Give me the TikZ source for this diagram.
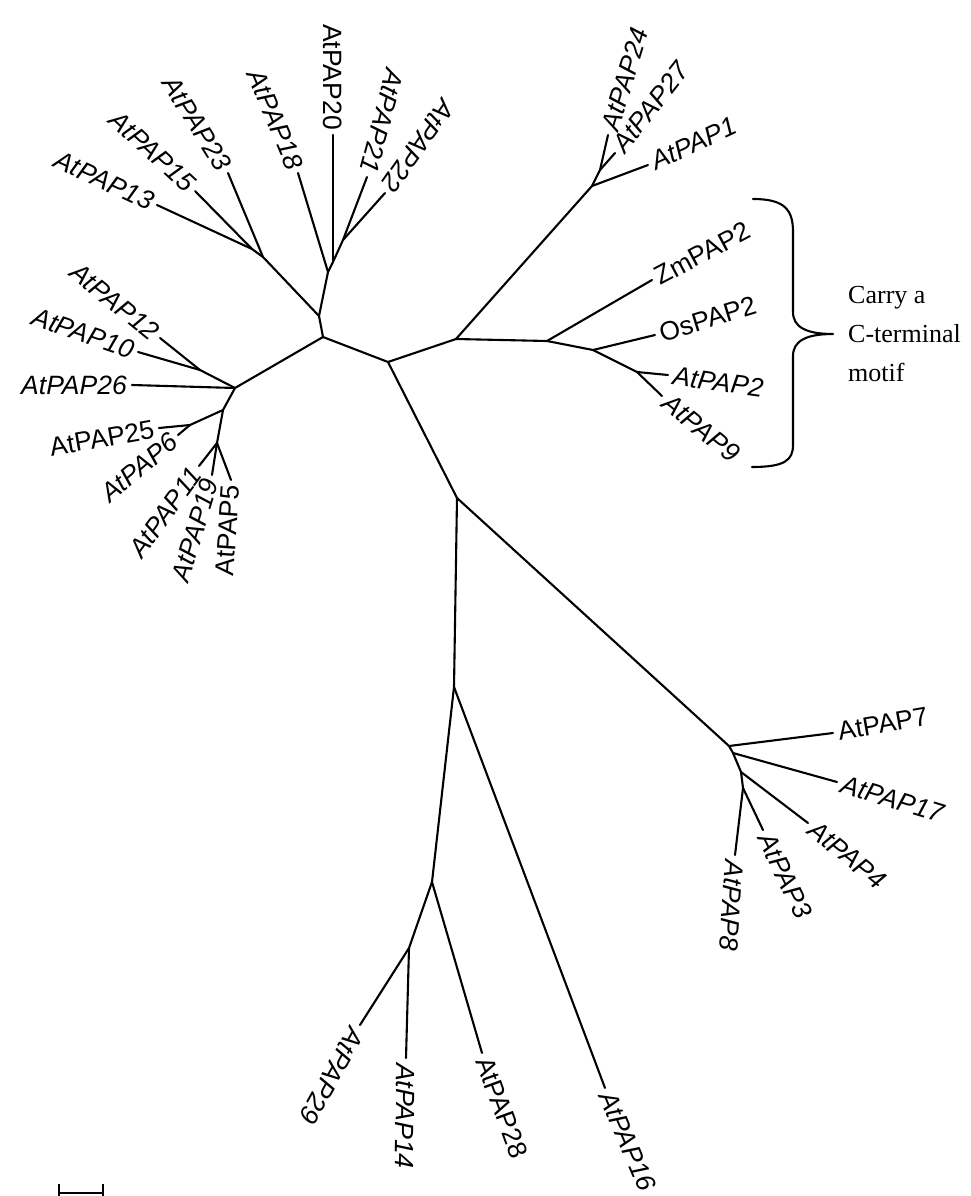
\documentclass[tikz,border=0pt]{standalone}
\usepackage{fontspec}
\newfontfamily\labfont{Liberation Sans}
\newfontfamily\notefont{Liberation Serif}
\tikzstyle{branch} = [line width=2.1pt, line cap=round, line join=round]
\tikzstyle{leafl} = [anchor=east, inner sep=5pt, font=\fontsize{26.5}{31}\selectfont\labfont\itshape]
\tikzstyle{leafr} = [anchor=west, inner sep=5pt, font=\fontsize{26.5}{31}\selectfont\labfont\itshape]
\tikzstyle{rom} = [font=\fontsize{26.5}{31}\selectfont\labfont]
\tikzstyle{note} = [anchor=west, align=left, inner sep=0pt, font=\fontsize{26}{39}\selectfont\notefont]

\begin{document}
\begin{tikzpicture}[x=1pt, y=-1pt]
    \useasboundingbox (0,0) rectangle (971,1196);
    %内部节点
    \coordinate (A) at (323,337);
    \coordinate (B) at (319,316);
    \coordinate (D) at (263,257);
    \coordinate (F) at (252,249);
    \coordinate (E) at (328,272);
    \coordinate (G) at (333,262);
    \coordinate (H) at (343,240);
    \coordinate (L) at (235,388);
    \coordinate (L2) at (200,370);
    \coordinate (M) at (223,410);
    \coordinate (M2) at (190,425);
    \coordinate (N) at (217,443);
    \coordinate (C) at (388,362);
    \coordinate (P) at (456,339);
    \coordinate (K) at (592,186);
    \coordinate (K2) at (600,170);
    \coordinate (Q2) at (547,341);
    \coordinate (R) at (593,350);
    \coordinate (S) at (637,372);
    \coordinate (Q) at (457,498);
    \coordinate (T) at (729,746);
    \coordinate (T2) at (733,753);
    \coordinate (T3) at (741,772);
    \coordinate (T4) at (743,788);
    \coordinate (U) at (454,687);
    \coordinate (V) at (432,882);
    \coordinate (W) at (409,948);

    %叶节点标签
    \node (p13) [leafl, rotate=-25] at (157,205) {AtPAP13};
    \node (p15) [leafl, rotate=-43] at (195,191) {AtPAP15};
    \node (p23) [leafl, rotate=-58] at (228,173) {AtPAP23};
    \node (p18) [leafl, rotate=-67] at (298,173) {AtPAP18};
    \node (p20) [leafl, rom, rotate=-90] at (333,135) {AtPAP20};
    \node (p21) [leafl, rotate=-105] at (367,177) {AtPAP21};
    \node (p22) [leafl, rotate=-125] at (385,193) {AtPAP22};
    \node (p12) [leafl, rotate=-39] at (160,338) {AtPAP12};
    \node (p10) [leafl, rotate=-19] at (138,352) {AtPAP10};
    \node (p26) [leafl] at (132,385) {AtPAP26};
    \node (p25) [leafl, rom, rotate=10] at (159,428) {AtPAP25};
    \node (p6) [leafl, rotate=40] at (178,435) {AtPAP6};
    \node (p11) [leafl, rotate=54] at (199,466) {AtPAP11};
    \node (p19) [leafl, rotate=73] at (212,475) {AtPAP19};
    \node (p5) [leafl, rom, rotate=86] at (231,480) {AtPAP5};
    \node (p24) [leafr, rotate=73] at (608,135) {AtPAP24};
    \node (p27) [leafr, rotate=52] at (615,153) {AtPAP27};
    \node (p1) [leafr, rotate=25] at (648,165) {AtPAP1};
    \node (zm) [leafr, rom, rotate=28] at (652,280) {ZmPAP2};
    \node (os) [leafr, rom, rotate=17] at (655,335) {OsPAP2};
    \node (p2) [leafr, rotate=-8] at (668,375) {AtPAP2};
    \node (p9) [leafr, rotate=-39] at (662,396) {AtPAP9};
    \node (p7) [leafr, rom, rotate=10] at (833,733) {AtPAP7};
    \node (p17) [leafr, rotate=-17] at (837,782) {AtPAP17};
    \node (p4) [leafr, rotate=-39] at (808,823) {AtPAP4};
    \node (p3) [leafr, rotate=-64] at (763,830) {AtPAP3};
    \node (p8) [leafr, rotate=-94] at (735,855) {AtPAP8};
    \node (p16) [leafr, rotate=-67] at (605,1088) {AtPAP16};
    \node (p28) [leafr, rom, rotate=-70] at (482,1053) {AtPAP28};
    \node (p14) [leafr, rotate=-91] at (406,1058) {AtPAP14};
    \node (p29) [leafr, rotate=-119] at (360,1025) {AtPAP29};

    %左上分支
    \draw [branch] (C) -- (A) -- (B) -- (D) -- (F) -- (p13.east);
    \draw [branch] (F) -- (p15.east);
    \draw [branch] (D) -- (p23.east);
    \draw [branch] (B) -- (E) -- (G) -- (H) -- (p21.east);
    \draw [branch] (H) -- (p22.east);
    \draw [branch] (G) -- (p20.east);
    \draw [branch] (E) -- (p18.east);
    %左侧分支
    \draw [branch] (A) -- (L) -- (L2) -- (p12.east);
    \draw [branch] (L2) -- (p10.east);
    \draw [branch] (L) -- (p26.east);
    \draw [branch] (L) -- (M) -- (M2) -- (p25.east);
    \draw [branch] (M2) -- (p6.east);
    \draw [branch] (M) -- (N) -- (p11.east);
    \draw [branch] (N) -- (p19.east);
    \draw [branch] (N) -- (p5.east);
    %右上分支
    \draw [branch] (C) -- (P) -- (K) -- (p1.west);
    \draw [branch] (K) -- (K2) -- (p24.west);
    \draw [branch] (K2) -- (p27.west);
    \draw [branch] (P) -- (Q2) -- (zm.west);
    \draw [branch] (Q2) -- (R) -- (os.west);
    \draw [branch] (R) -- (S) -- (p2.west);
    \draw [branch] (S) -- (p9.west);
    %下方分支
    \draw [branch] (C) -- (Q) -- (T) -- (p7.west);
    \draw [branch] (T) -- (T2) -- (p17.west);
    \draw [branch] (T2) -- (T3) -- (p4.west);
    \draw [branch] (T3) -- (T4) -- (p3.west);
    \draw [branch] (T4) -- (p8.west);
    \draw [branch] (Q) -- (U) -- (p16.west);
    \draw [branch] (U) -- (V) -- (p28.west);
    \draw [branch] (V) -- (W) -- (p29.west);
    \draw [branch] (W) -- (p14.west);

    %大括号和说明
    \draw [branch] (753,199) .. controls (785,199) and (793,210) .. (793,232) -- (793,312)
        .. controls (793,327) and (806,334) .. (833,334)
        .. controls (806,334) and (793,341) .. (793,356) -- (793,445)
        .. controls (793,460) and (785,467) .. (752,467);
    \node (motif) [note] at (848,334) {Carry a\\C-terminal\\motif};

    %标尺
    \draw [branch, line cap=butt] (59,1193) -- (103,1193);
    \draw [branch, line cap=butt] (59,1184) -- (59,1196);
    \draw [branch, line cap=butt] (103,1184) -- (103,1196);
\end{tikzpicture}
\end{document}
